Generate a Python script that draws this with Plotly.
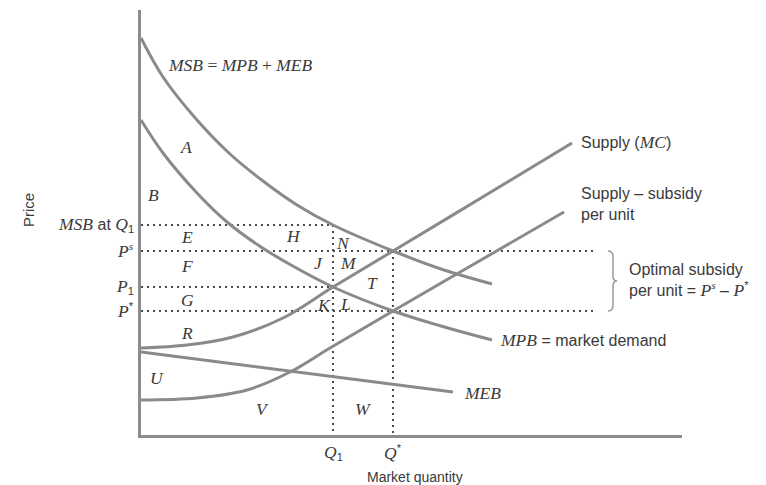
import plotly.graph_objects as go

# ---- data (quantity / price units of the diagram) ----
Q1 = 192
Qstar = 252
MSB_at_Q1 = 210
Ps = 184
P1 = 148
Pstar = 124
dotted_end = 454

msb_q = [0, 22, 56, 89, 122, 156, 192, 252, 300, 351]
msb_p = [397, 358, 315, 281, 254, 230, 210, 184, 166, 151]

mpb_q = [0, 22, 56, 86, 120, 150, 192, 252, 300, 351]
mpb_p = [315, 282, 242, 213, 188, 170, 148, 124, 109, 95]

supply_q = [0, 46, 92, 142, 192, 252, 340, 431]
supply_p = [87, 90, 98, 117, 148, 184, 237, 292]

subsidy_q = [0, 56, 106, 149, 189, 252, 340, 423]
subsidy_p = [35, 37, 45, 63, 87, 124, 175, 223]

meb_q = [0, 312]
meb_p = [83, 43]

X_MAX = 541
Y_MAX = 425

CURVE = "#8a8a8a"
TEXT = "#3a3a3a"
SERIF = "Liberation Serif"
SANS = "Liberation Sans"
SERIF_SIZE = 17.5
SANS_SIZE = 16


def it(s):
    return f'<span style="font-family:{SERIF};font-size:{SERIF_SIZE}px"><i>{s}</i></span>'


def small_it(s):
    return f'<span style="font-family:{SERIF}"><i>{s}</i></span>'


def px(q):
    return q / X_MAX


def py(p):
    return p / Y_MAX


fig = go.Figure()

dot = dict(color="#4a4a4a", width=2, dash="2px,4px")
# dotted guide lines
fig.add_trace(go.Scatter(x=[0, Q1, Q1], y=[MSB_at_Q1, MSB_at_Q1, 0], mode="lines", line=dot))
fig.add_trace(go.Scatter(x=[0, dotted_end], y=[Ps, Ps], mode="lines", line=dot))
fig.add_trace(go.Scatter(x=[0, Q1], y=[P1, P1], mode="lines", line=dot))
fig.add_trace(go.Scatter(x=[0, dotted_end], y=[Pstar, Pstar], mode="lines", line=dot))
fig.add_trace(go.Scatter(x=[Qstar, Qstar], y=[Ps, 0], mode="lines", line=dot))

curve = dict(color=CURVE, width=3, shape="spline", smoothing=1)
for qx, pp in [(msb_q, msb_p), (mpb_q, mpb_p), (supply_q, supply_p),
               (subsidy_q, subsidy_p), (meb_q, meb_p)]:
    fig.add_trace(go.Scatter(x=qx, y=pp, mode="lines", line=curve))

# brace for optimal subsidy
bx = 467
mid = (Ps + Pstar) / 2
path = (f"M {bx},{Ps} Q {bx+5},{Ps} {bx+5},{Ps-6} L {bx+5},{mid+5} "
        f"Q {bx+5},{mid} {bx+9},{mid} Q {bx+5},{mid} {bx+5},{mid-5} "
        f"L {bx+5},{Pstar+6} Q {bx+5},{Pstar} {bx},{Pstar}")
fig.add_shape(type="path", path=path, xref="x", yref="y",
              line=dict(color="#9a9a9a", width=1.5))

ann = []

# region letters
regions = [("A", 45, 288), ("B", 12, 240), ("E", 46, 198), ("H", 152, 199),
           ("N", 202, 192), ("F", 46, 169), ("J", 177, 172), ("M", 207, 172),
           ("T", 231, 152), ("G", 46, 135), ("K", 183, 130), ("L", 204, 131),
           ("R", 46, 102), ("U", 16, 57), ("V", 121, 26), ("W", 222, 26)]
for t, x, y in regions:
    ann.append(dict(x=x, y=y, text=t, showarrow=False,
                    font=dict(family=SERIF, size=SERIF_SIZE, color=TEXT, style="italic")))

ann.append(dict(x=99, y=370, text="<i>MSB</i> = <i>MPB</i> + <i>MEB</i>", showarrow=False,
                font=dict(family=SERIF, size=SERIF_SIZE, color=TEXT)))

# y-axis labels (paper coordinates, outside the plot)
ylab = [(MSB_at_Q1, f"{it('MSB')} at {it('Q')}<sub>1</sub>"),
        (Ps, f"{it('P')}<sup>{small_it('s')}</sup>"),
        (P1, f"{it('P')}<sub>1</sub>"),
        (Pstar, f"{it('P')}<sup>*</sup>")]
for y, t in ylab:
    ann.append(dict(xref="paper", yref="paper", x=px(-5), y=py(y + 1), text=t,
                    showarrow=False, xanchor="right", yanchor="middle",
                    font=dict(family=SANS, size=SANS_SIZE, color=TEXT)))

# x-axis labels
for x, t in [(Q1, f"{it('Q')}<sub>1</sub>"), (Qstar, f"{it('Q')}<sup>*</sup>")]:
    ann.append(dict(xref="paper", yref="paper", x=px(x), y=py(-17), text=t,
                    showarrow=False, xanchor="center", yanchor="middle",
                    font=dict(family=SANS, size=SANS_SIZE, color=TEXT)))

ann.append(dict(xref="paper", yref="paper", x=px(274), y=py(-42), text="Market quantity",
                showarrow=False, xanchor="center", yanchor="middle",
                font=dict(family=SANS, size=14, color=TEXT)))
ann.append(dict(xref="paper", yref="paper", x=px(-113), y=py(225), text="Price",
                textangle=-90, showarrow=False, xanchor="center", yanchor="middle",
                font=dict(family=SANS, size=15, color=TEXT)))

# curve labels
right = [(438, 293, f"Supply ({it('MC')})"),
         (438, 231, "Supply – subsidy<br>per unit"),
         (486, 155, f"Optimal subsidy<br>per unit = {it('P')}<sup>{small_it('s')}</sup> – {it('P')}<sup>*</sup>"),
         (357, 95, f"{it('MPB')} = market demand"),
         (321, 42, it("MEB"))]
for x, y, t in right:
    ann.append(dict(xref="paper", yref="paper", x=px(x), y=py(y), text=t,
                    showarrow=False, xanchor="left", yanchor="middle", align="left",
                    font=dict(family=SANS, size=SANS_SIZE, color=TEXT)))

# page body has an 8px margin, so the figure is 8px smaller than the window
fig.update_layout(
    width=758, height=477, autosize=False,
    margin=dict(l=133, r=84, t=2, b=50, pad=0),
    paper_bgcolor="white", plot_bgcolor="white",
    showlegend=False,
    annotations=ann,
    xaxis=dict(range=[0, X_MAX], showgrid=False, zeroline=False, showticklabels=False,
               ticks="", showline=True, linecolor="#8c8c8c", linewidth=3),
    yaxis=dict(range=[0, Y_MAX], showgrid=False, zeroline=False, showticklabels=False,
               ticks="", showline=True, linecolor="#8c8c8c", linewidth=3),
)

fig.write_html("out.html")
